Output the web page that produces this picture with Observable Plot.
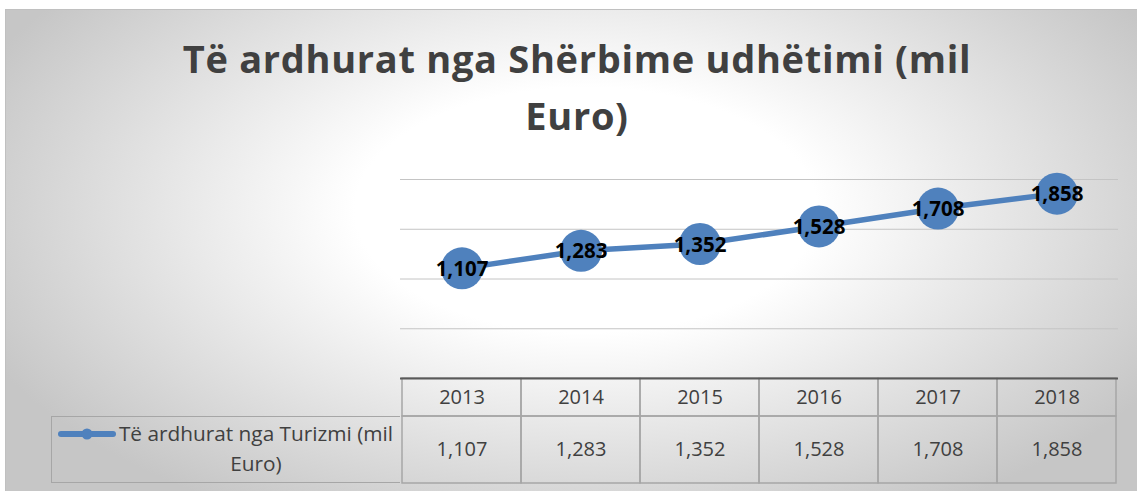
<!DOCTYPE html>
<html>
<head>
<meta charset="utf-8">
<script src="https://cdn.jsdelivr.net/npm/d3@7"></script>
<script src="https://cdn.jsdelivr.net/npm/@observablehq/plot@0.6"></script>
<style>
  html, body { margin: 0; padding: 0; background: #ffffff; }
  body { position: relative; width: 1137px; height: 491px; overflow: hidden; font-family: "Open Sans", Lato, sans-serif; }
  #frame { position: absolute; left: 5px; top: 9px; width: 1132px; height: 482px; box-sizing: border-box;
    border-top: 1px solid #c0c0c0; border-left: 1px solid #c0c0c0;
    background: radial-gradient(ellipse 660px 350px at 580px 200px, #ffffff 35%, #c6c6c6 100%); }
  #title { position: absolute; left: 5px; top: 30px; width: 1144px; text-align: center; font-weight: 700;
    font-size: 38px; letter-spacing: 0.7px; line-height: 57px; color: #404040; }
  .abs { position: absolute; left: 5px; }
  #legend { position: absolute; left: 51px; top: 416px; width: 349px; height: 67px; box-sizing: border-box;
    border: 1.5px solid #a6a6a6; border-right: none; }
  #legend svg { position: absolute; left: 5px; top: 10px; }
  #legend .txt { position: absolute; left: 60px; top: 1px; width: 288px; text-align: center; font-size: 20.8px;
    line-height: 30px; color: #404040; white-space: nowrap; }
</style>
</head>
<body>
<div id="frame"></div>
<div id="title"></div>
<div id="chart" class="abs" style="top:150px; z-index:2;"></div>
<div id="header" class="abs" style="top:378px; z-index:1;"></div>
<div id="values" class="abs" style="top:416px; z-index:1;"></div>
<div id="legend"></div>
<script>
const titleLines = ["Të ardhurat nga Shërbime udhëtimi (mil", "Euro)"];
const seriesLines = ["Të ardhurat nga Turizmi (mil", "Euro)"];
const years = ["2013", "2014", "2015", "2016", "2017", "2018"];
const values = [1107, 1283, 1352, 1528, 1708, 1858];
const gridValues = [500, 1000, 1500, 2000];

const blue = "#4f81bd";
const fmt = d3.format(",");
const data = years.map((y, i) => ({year: y, value: values[i]}));

document.getElementById("title").innerHTML = titleLines.join("<br>");

const W = 1132, ML = 395, MR = 19;
const common = {
  width: W, marginLeft: ML, marginRight: MR,
  style: {background: "transparent", overflow: "visible", fontFamily: "'Open Sans', Lato, sans-serif"}
};

const chart = Plot.plot({
  ...common,
  height: 228, marginTop: 29, marginBottom: 0,
  x: {type: "band", domain: years, padding: 0, axis: null},
  y: {domain: [0, 2000], axis: null},
  marks: [
    Plot.ruleY(gridValues, {stroke: "#c4c4c4", strokeWidth: 1}),
    Plot.ruleY([0], {stroke: "#595959", strokeWidth: 2}),
    Plot.line(data, {x: "year", y: "value", stroke: blue, strokeWidth: 5.5, strokeLinejoin: "round"}),
    Plot.dot(data, {x: "year", y: "value", r: 21, fill: blue, stroke: "none"}),
    Plot.text(data, {x: "year", y: "value", text: d => fmt(d.value), fontSize: 20.5, fontWeight: 700, fill: "#000000", dy: 1})
  ]
});
document.getElementById("chart").appendChild(chart);

const header = Plot.plot({
  ...common,
  height: 38, marginTop: 0, marginBottom: 0,
  x: {type: "band", domain: years, padding: 0, axis: null},
  marks: [
    Plot.cell(years, {x: d => d, fill: "none", stroke: "#a6a6a6", strokeWidth: 1.5}),
    Plot.text(years, {x: d => d, text: d => d, fontSize: 20, fill: "#404040"})
  ]
});
document.getElementById("header").appendChild(header);

const valueRow = Plot.plot({
  ...common,
  height: 67, marginTop: 0, marginBottom: 0,
  x: {type: "band", domain: years, padding: 0, axis: null},
  marks: [
    Plot.cell(data, {x: "year", fill: "none", stroke: "#a6a6a6", strokeWidth: 1.5}),
    Plot.text(data, {x: "year", text: d => fmt(d.value), fontSize: 20, fill: "#404040"})
  ]
});
document.getElementById("values").appendChild(valueRow);

const legend = document.getElementById("legend");
legend.innerHTML =
  `<svg width="60" height="14" viewBox="0 0 60 14">
     <line x1="4" y1="7" x2="56" y2="7" stroke="${blue}" stroke-width="6" stroke-linecap="round"/>
     <circle cx="30" cy="7" r="5.5" fill="${blue}"/>
   </svg>
   <div class="txt">${seriesLines.join("<br>")}</div>`;
</script>
</body>
</html>
